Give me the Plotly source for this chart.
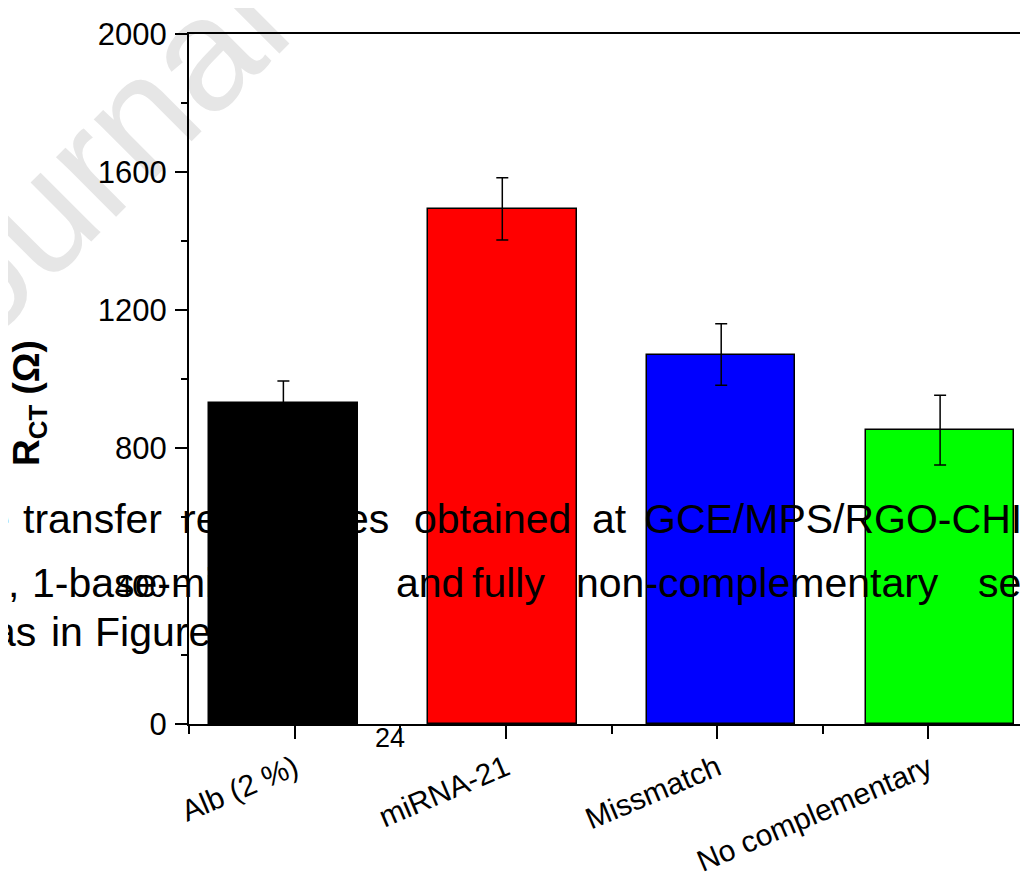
import plotly.graph_objects as go

# ---------------- data ----------------
categories = ["Alb (2 %)", "miRNA-21", "Missmatch", "No complementary"]
rct_values = [931, 1493, 1071, 852]
rct_errors = [63, 90, 89, 101]
bar_colors = ["#000000", "#FF0000", "#0000FF", "#00FF00"]
positions = [1, 2, 3, 4]
y_ticks = [0, 400, 800, 1200, 1600, 2000]
y_minor = [200, 600, 1000, 1400, 1800]
x_minor = [0.5, 1.5, 2.5, 3.5]

# background page text (caption bleeding through), words with left edge / baseline in px
caption_words = [
    ("e", -15, 533), ("transfer", 21, 533), ("resistances", 180, 533),
    ("obtained", 412, 533), ("at", 590, 533), ("GCE/MPS/RGO-CHI", 642, 533),
    (",", 6, 597), ("1-base-mismatch", 30, 597), ("and", 394, 597),
    ("fully", 470, 597), ("non-complementary", 574, 597), ("sequences", 976, 597),
    ("as", -9, 646), ("in", 49, 646), ("Figure", 93, 646),
]

OFF = 8                      # page body margin of the html page
W, H = 1028 - OFF, 884 - OFF
L, R, T, B = 189 - OFF, 0, 34 - OFF, 160
PW, PH = W - L - R, H - T - B
FONT = "Liberation Sans, Arial, sans-serif"


def px(x):
    return (x - OFF - L) / PW


def py(y):
    return (H - B - (y - OFF)) / PH


fig = go.Figure()
fig.add_trace(go.Bar(
    x=positions, y=rct_values, width=0.678,
    marker=dict(color=bar_colors, line=dict(color="black", width=1.5)),
    error_y=dict(type="data", array=rct_errors, color="black", thickness=1.5, width=6),
    xaxis="x", yaxis="y", showlegend=False, hoverinfo="skip",
))
fig.add_trace(go.Scatter(x=positions, y=[None] * 4, xaxis="x2", yaxis="y",
                         showlegend=False, hoverinfo="skip", mode="markers"))

annotations = []
for txt, x0, base in caption_words:
    annotations.append(dict(
        text=txt, x=px(x0), y=py(base - 14.2), xref="paper", yref="paper",
        xanchor="left", yanchor="middle", showarrow=False,
        font=dict(family=FONT, size=41, color="black"),
    ))
annotations.append(dict(
    text="24", x=px(390), y=py(738), xref="paper", yref="paper",
    xanchor="center", yanchor="middle", showarrow=False,
    font=dict(family=FONT, size=27, color="black"),
))
annotations.append(dict(
    text="<b>R<sub>CT</sub> (Ω)</b>", x=px(29), y=py(403), xref="paper", yref="paper",
    xanchor="center", yanchor="middle", showarrow=False, textangle=-90,
    font=dict(family=FONT, size=37, color="black"),
))

cx, cy = 313, -80
shapes = [dict(
    type="rect", xref="paper", yref="paper", layer="below",
    x0=px(cx - 50), x1=px(cx + 50), y0=py(cy + 50), y1=py(cy - 50),
    line=dict(width=0), fillcolor="rgba(0,0,0,0)",
    label=dict(text="Journal Pre-proof", textangle=-45, textposition="middle center",
               font=dict(family=FONT, size=160, color="#e6e6e6")),
)]

fig.update_layout(
    width=W, height=H,
    margin=dict(l=L, r=R, t=T, b=B, pad=0),
    paper_bgcolor="white", plot_bgcolor="rgba(0,0,0,0)",
    font=dict(family=FONT, color="black"),
    bargap=0,
    xaxis=dict(range=[0.5688, 4.4015], visible=False, showgrid=False, zeroline=False),
    xaxis2=dict(
        overlaying="x", anchor="y", side="bottom", range=[0.5, 4.471],
        tickmode="array", tickvals=positions, ticktext=categories, tickangle=-23,
        ticks="outside", ticklen=13, tickwidth=2, tickcolor="black",
        showline=True, linewidth=2, linecolor="black", mirror=True,
        showgrid=False, zeroline=False,
        tickfont=dict(family=FONT, size=30, color="black"),
        minor=dict(tickvals=x_minor, ticks="outside", ticklen=8, tickwidth=2,
                   tickcolor="black", showgrid=False),
    ),
    yaxis=dict(
        range=[0, 2000], tickmode="array", tickvals=y_ticks,
        ticks="outside", ticklen=12, tickwidth=2, tickcolor="black",
        showline=True, linewidth=2, linecolor="black",
        showgrid=False, zeroline=False, ticklabelstandoff=2,
        tickfont=dict(family=FONT, size=31, color="black"),
        minor=dict(tickvals=y_minor, ticks="outside", ticklen=6, tickwidth=2,
                   tickcolor="black", showgrid=False),
    ),
    annotations=annotations,
    shapes=shapes,
)

fig.write_html("out.html")
